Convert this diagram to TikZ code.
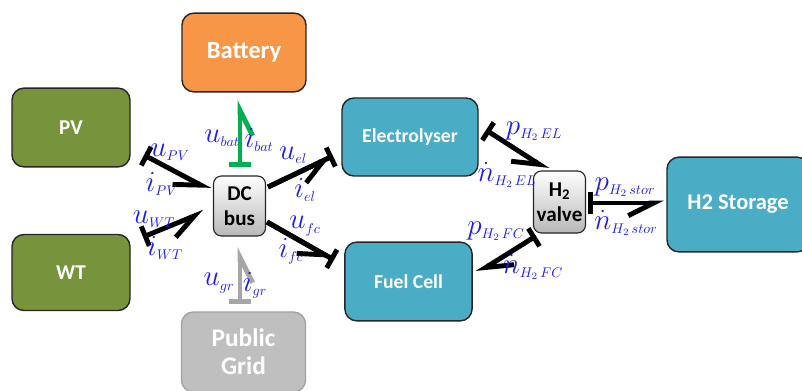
\documentclass[tikz,border=0pt]{standalone}
\usepackage{fontspec}
\setmainfont{Carlito}
\usetikzlibrary{arrows.meta}
\definecolor{battorange}{HTML}{F79646}
\definecolor{srcgreen}{HTML}{77933C}
\definecolor{htwoteal}{HTML}{4BACC6}
\definecolor{gridgray}{HTML}{BFBFBF}
\definecolor{bondgreen}{HTML}{00B050}
\definecolor{bondgray}{HTML}{A6A6A6}
\definecolor{varblue}{RGB}{30,30,235}
\DeclareMathSizes{17}{20}{10}{7.5}

\begin{document}
\begin{tikzpicture}[x=0.025cm,y=-0.025cm,
    font=\fontsize{15}{18}\selectfont\bfseries,
    blk/.style={draw=black!85,line width=1pt,rounded corners=0.3cm,
        text=white,inner sep=0pt,align=center},
    hub/.style={draw=black!85,line width=0.8pt,rounded corners=0.2cm,
        top color=white,bottom color=black!28,inner sep=0pt,align=center,
        minimum width=1.3cm},
    bond/.style={line width=3.5pt},
    cause/.style={{Bar[width=15pt]}-{Straight Barb[harpoon,swap,length=18pt,width=18pt]}},
    causeflip/.style={{Bar[width=15pt]}-{Straight Barb[harpoon,length=18pt,width=18pt]}},
    causeend/.style={-{Straight Barb[harpoon,swap,length=18pt,width=18pt]},
        postaction={draw,-{Bar[width=15pt]}}},
    var/.style={text=varblue,inner sep=1pt,font=\fontsize{17}{20}\selectfont}]
    \useasboundingbox (0,0) rectangle (802,390);
    \clip (0,0) rectangle (802,390);

    % Blocks.
    \node[blk,fill=battorange,minimum width=3.1cm,minimum height=1.97cm,
        font=\fontsize{17.5}{20}\selectfont\bfseries]
        (bat) at (244,52.5) {Battery};
    \node[blk,fill=srcgreen,minimum width=2.95cm,minimum height=1.97cm]
        (pv) at (71,127.5) {PV};
    \node[blk,fill=srcgreen,minimum width=2.95cm,minimum height=1.9cm]
        (wt) at (71,272.5) {WT};
    \node[blk,draw=gridgray!85!black,fill=gridgray,minimum width=3.1cm,
        minimum height=2cm,font=\fontsize{18}{20}\selectfont\bfseries]
        (grid) at (243.5,352) {Public\\Grid};
    \node[blk,fill=htwoteal,minimum width=3.4cm,minimum height=1.95cm,
        font=\fontsize{14}{17}\selectfont\bfseries]
        (elz) at (410,137) {Electrolyser};
    \node[blk,fill=htwoteal,minimum width=3.18cm,minimum height=1.97cm,
        font=\fontsize{14}{17}\selectfont\bfseries]
        (fc) at (408.5,281.5) {Fuel Cell};
    \node[blk,fill=htwoteal,minimum width=3.55cm,minimum height=2.37cm,
        font=\fontsize{16}{19}\selectfont\bfseries]
        (stor) at (738,204.5) {H2 Storage};
    \node[hub,minimum height=1.5cm] (dc) at (239.5,206) {DC\\bus};
    \node[hub,minimum height=1.55cm] (valve) at (559.5,202)
        {H\textsubscript{2}\\valve};

    % Bond end points.
    \coordinate (bat-a) at (240,167);
    \coordinate (bat-b) at (240,100);
    \coordinate (grd-a) at (240,304);
    \coordinate (grd-b) at (240,247);
    \coordinate (pv-a) at (144,155);
    \coordinate (pv-b) at (210,190);
    \coordinate (wt-a) at (143,237);
    \coordinate (wt-b) at (204,212);
    \coordinate (el-a) at (268,187);
    \coordinate (el-b) at (333,156);
    \coordinate (fc-a) at (267,222);
    \coordinate (fc-b) at (334,260);
    \coordinate (hel-a) at (486,130);
    \coordinate (hel-b) at (548,170);
    \coordinate (hfc-a) at (536,236);
    \coordinate (hfc-b) at (477,273);
    \coordinate (hst-a) at (588,203);
    \coordinate (hst-b) at (664,203);

    % Bonds.
    \draw[bond,cause,bondgreen] (bat-a) -- (bat-b);
    \draw[bond,cause,bondgray] (grd-a) -- (grd-b);
    \draw[bond,cause] (pv-a) -- (pv-b);
    \draw[bond,cause] (wt-a) -- (wt-b);
    \draw[bond,causeend] (el-a) -- (el-b);
    \draw[bond,causeend] (fc-a) -- (fc-b);
    \draw[bond,cause] (hel-a) -- (hel-b);
    \draw[bond,causeflip] (hfc-a) -- (hfc-b);
    \draw[bond,cause] (hst-a) -- (hst-b);

    % Effort and flow labels.
    \node[var] (ubat) at (222,138) {$u_{bat}$};
    \node[var] (ibat) at (259,140) {$i_{bat}$};
    \node[var] (ugr) at (219,283) {$u_{gr}$};
    \node[var] (igr) at (255,285) {$i_{gr}$};
    \node[var] (upv) at (170,152) {$u_{PV}$};
    \node[var] (ipv) at (162,184) {$i_{PV}$};
    \node[var] (uwt) at (154,219) {$u_{WT}$};
    \node[var] (iwt) at (165,248) {$i_{WT}$};
    \node[var] (uel) at (293,155) {$u_{el}$};
    \node[var] (iel) at (305,190) {$i_{el}$};
    \node[var] (ufc) at (305,226) {$u_{fc}$};
    \node[var] (ifc) at (291,251) {$i_{fc}$};
    \node[var] (pel) at (534,131) {$p_{H_2\,EL}$};
    \node[var] (nel) at (507,175) {$\dot n_{H_2\,EL}$};
    \node[var] (pst) at (625,187) {$p_{H_2\,stor}$};
    \node[var] (nst) at (626,223) {$\dot n_{H_2\,stor}$};
    \node[var] (pfc) at (496,231) {$p_{H_2\,FC}$};
    \node[var] (nfc) at (533,267) {$\dot n_{H_2\,FC}$};
\end{tikzpicture}
\end{document}
